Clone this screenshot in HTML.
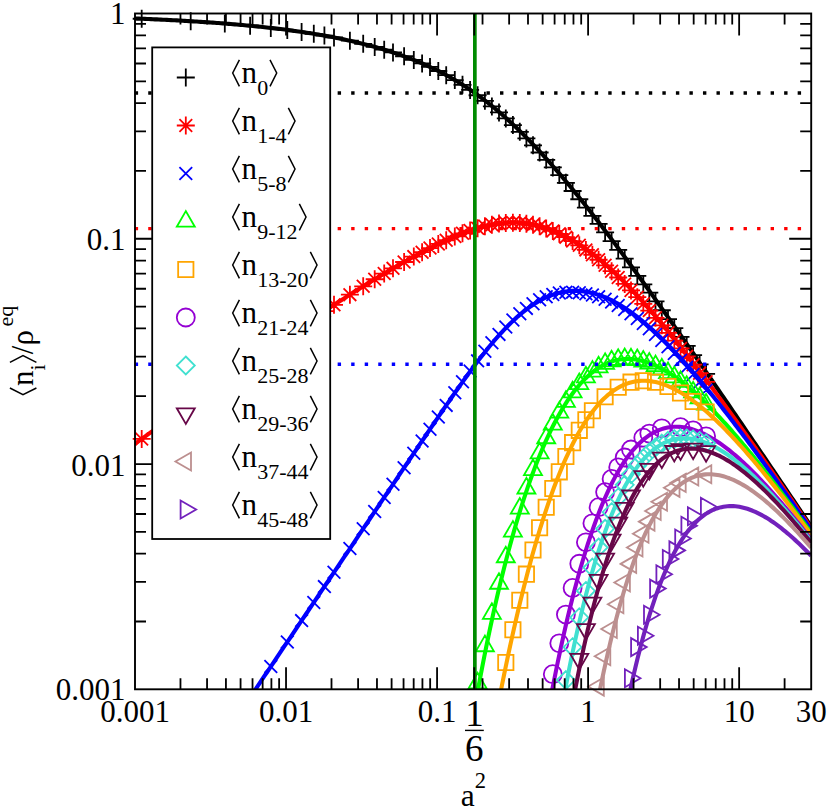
<!DOCTYPE html><html><head><meta charset="utf-8"><style>html,body{margin:0;padding:0;background:#fff}svg{display:block}</style></head><body><svg width="830" height="810" viewBox="0 0 830 810">
<rect width="830" height="810" fill="#fff"/>
<defs><clipPath id="c"><rect x="135" y="13.5" width="676.2" height="675.8"/></clipPath></defs>
<path d="M132.7 18.77H150.7M141.7 9.77V27.77M181.7 21.2H199.7M190.7 12.2V30.2M215.8 23.54H233.8M224.8 14.54V32.54M241.1 25.75H259.1M250.1 16.75V34.75M261.8 27.92H279.8M270.8 18.92V36.92M278.3 29.93H296.3M287.3 20.93V38.93M292.6 31.92H310.6M301.6 22.92V40.92M304.8 33.81H322.8M313.8 24.81V42.81M315.4 35.62H333.4M324.4 26.62V44.62M325 37.41H343M334 28.41V46.41M340.9 40.71H358.9M349.9 31.71V49.71M354.2 43.85H372.2M363.2 34.85V52.85M365.7 46.88H383.7M374.7 37.88V55.88M375.2 49.63H393.2M384.2 40.63V58.63M384 52.41H402M393 43.41V61.41M395.1 56.24H413.1M404.1 47.24V65.24M404.8 59.94H422.8M413.8 50.94V68.94M413.1 63.39H431.1M422.1 54.39V72.39M421 66.94H439M430 57.94V75.94M429.3 70.98H447.3M438.3 61.98V79.98M437.2 75.13H455.2M446.2 66.13V84.13M445.8 80.05H463.8M454.8 71.05V89.05M453.5 84.84H471.5M462.5 75.84V93.84M461.1 89.9H479.1M470.1 80.9V98.9M468.6 95.24H486.6M477.6 86.24V104.24M475.9 100.78H493.9M484.9 91.78V109.78M482.9 106.4H500.9M491.9 97.4V115.4M490 112.41H508M499 103.41V121.41M496.8 118.46H514.8M505.8 109.46V127.46M503.9 125.07H521.9M512.9 116.07V134.07M510.8 131.78H528.8M519.8 122.78V140.78M517.4 138.45H535.4M526.4 129.45V147.45M524 145.36H542M533 136.36V154.36M530.6 152.5H548.6M539.6 143.5V161.5M537.2 159.85H555.2M546.2 150.85V168.85M543.8 167.4H561.8M552.8 158.4V176.4M550.3 175.03H568.3M559.3 166.03V184.03M556.9 182.87H574.9M565.9 173.87V191.87M563.6 190.99H581.6M572.6 181.99V199.99M570.3 199.26H588.3M579.3 190.26V208.26M576.9 207.56H594.9M585.9 198.56V216.56M583.4 215.86H601.4M592.4 206.86V224.86M589.6 223.88H607.6M598.6 214.88V232.88M596.1 232.4H614.1M605.1 223.4V241.4M602.6 241.03H620.6M611.6 232.03V250.03M609.2 249.88H627.2M618.2 240.88V258.88M615.7 258.68H633.7M624.7 249.68V267.68M622 267.29H640M631 258.29V276.29M628.3 275.97H646.3M637.3 266.97V284.97M634.3 284.29H652.3M643.3 275.29V293.29M640.3 292.67H658.3M649.3 283.67V301.67M646.5 301.37H664.5M655.5 292.37V310.37M652.8 310.26H670.8M661.8 301.26V319.26M659 319.06H677M668 310.06V328.06M665.3 328.03H683.3M674.3 319.03V337.03M671.5 336.9H689.5M680.5 327.9V345.9M677.7 345.81H695.7M686.7 336.81V354.81M684.1 355.03H702.1M693.1 346.03V364.03M690.6 364.43H708.6M699.6 355.43V373.43M697.1 373.85H715.1M706.1 364.85V382.85" fill="none" stroke="#000000" stroke-width="1.8"/>
<path clip-path="url(#c)" d="M135 18.5L136.99 18.58L138.99 18.66L140.98 18.74L142.98 18.82L144.97 18.9L146.97 18.98L148.96 19.07L150.96 19.16L152.95 19.24L154.95 19.33L156.94 19.42L158.94 19.52L160.93 19.61L162.93 19.71L164.92 19.8L166.92 19.9L168.91 20L170.9 20.1L172.9 20.2L174.89 20.31L176.89 20.41L178.88 20.52L180.88 20.63L182.87 20.74L184.87 20.86L186.86 20.97L188.86 21.09L190.85 21.21L192.85 21.33L194.84 21.45L196.84 21.57L198.83 21.7L200.82 21.83L202.82 21.96L204.81 22.09L206.81 22.23L208.8 22.36L210.8 22.5L212.79 22.64L214.79 22.79L216.78 22.93L218.78 23.08L220.77 23.23L222.77 23.38L224.76 23.54L226.76 23.7L228.75 23.86L230.75 24.02L232.74 24.19L234.73 24.35L236.73 24.53L238.72 24.7L240.72 24.88L242.71 25.06L244.71 25.24L246.7 25.42L248.7 25.61L250.69 25.8L252.69 26L254.68 26.2L256.68 26.4L258.67 26.6L260.67 26.81L262.66 27.02L264.65 27.23L266.65 27.45L268.64 27.67L270.64 27.9L272.63 28.13L274.63 28.36L276.62 28.6L278.62 28.84L280.61 29.08L282.61 29.33L284.6 29.59L286.6 29.84L288.59 30.1L290.59 30.37L292.58 30.64L294.58 30.91L296.57 31.19L298.56 31.48L300.56 31.77L302.55 32.06L304.55 32.36L306.54 32.66L308.54 32.97L310.53 33.28L312.53 33.6L314.52 33.93L316.52 34.26L318.51 34.59L320.51 34.94L322.5 35.28L324.5 35.64L326.49 36L328.48 36.36L330.48 36.73L332.47 37.11L334.47 37.5L336.46 37.89L338.46 38.29L340.45 38.69L342.45 39.1L344.44 39.52L346.44 39.95L348.43 40.39L350.43 40.83L352.42 41.28L354.42 41.73L356.41 42.2L358.41 42.67L360.4 43.16L362.39 43.65L364.39 44.15L366.38 44.66L368.38 45.18L370.37 45.7L372.37 46.24L374.36 46.79L376.36 47.34L378.35 47.91L380.35 48.49L382.34 49.08L384.34 49.67L386.33 50.28L388.33 50.91L390.32 51.54L392.32 52.18L394.31 52.84L396.3 53.51L398.3 54.19L400.29 54.88L402.29 55.59L404.28 56.31L406.28 57.05L408.27 57.79L410.27 58.56L412.26 59.33L414.26 60.13L416.25 60.93L418.25 61.76L420.24 62.6L422.24 63.45L424.23 64.32L426.22 65.21L428.22 66.12L430.21 67.04L432.21 67.99L434.2 68.95L436.2 69.92L438.19 70.92L440.19 71.94L442.18 72.98L444.18 74.04L446.17 75.11L448.17 76.21L450.16 77.33L452.16 78.47L454.15 79.64L456.15 80.82L458.14 82.03L460.13 83.26L462.13 84.51L464.12 85.78L466.12 87.08L468.11 88.4L470.11 89.74L472.1 91.11L474.1 92.5L476.09 93.92L478.09 95.36L480.08 96.82L482.08 98.31L484.07 99.82L486.07 101.36L488.06 102.92L490.05 104.51L492.05 106.12L494.04 107.75L496.04 109.41L498.03 111.09L500.03 112.8L502.02 114.53L504.02 116.28L506.01 118.06L508.01 119.86L510 121.68L512 123.53L513.99 125.4L515.99 127.29L517.98 129.21L519.98 131.15L521.97 133.11L523.96 135.09L525.96 137.09L527.95 139.12L529.95 141.16L531.94 143.23L533.94 145.32L535.93 147.43L537.93 149.55L539.92 151.7L541.92 153.87L543.91 156.05L545.91 158.26L547.9 160.48L549.9 162.72L551.89 164.98L553.88 167.25L555.88 169.55L557.87 171.86L559.87 174.18L561.86 176.53L563.86 178.88L565.85 181.26L567.85 183.65L569.84 186.05L571.84 188.47L573.83 190.9L575.83 193.35L577.82 195.81L579.82 198.29L581.81 200.77L583.81 203.27L585.8 205.79L587.79 208.31L589.79 210.85L591.78 213.4L593.78 215.96L595.77 218.53L597.77 221.11L599.76 223.7L601.76 226.31L603.75 228.92L605.75 231.54L607.74 234.18L609.74 236.82L611.73 239.47L613.73 242.13L615.72 244.8L617.72 247.48L619.71 250.16L621.7 252.86L623.7 255.56L625.69 258.27L627.69 260.98L629.68 263.71L631.68 266.44L633.67 269.18L635.67 271.92L637.66 274.67L639.66 277.43L641.65 280.19L643.65 282.96L645.64 285.74L647.64 288.52L649.63 291.31L651.62 294.1L653.62 296.9L655.61 299.7L657.61 302.51L659.6 305.32L661.6 308.14L663.59 310.96L665.59 313.79L667.58 316.62L669.58 319.45L671.57 322.29L673.57 325.13L675.56 327.98L677.56 330.83L679.55 333.68L681.55 336.54L683.54 339.4L685.53 342.26L687.53 345.13L689.52 348L691.52 350.88L693.51 353.75L695.51 356.63L697.5 359.51L699.5 362.4L701.49 365.29L703.49 368.18L705.48 371.07L707.48 373.96L709.47 376.86L711.47 379.76L713.46 382.66L715.45 385.57L717.45 388.47L719.44 391.38L721.44 394.29L723.43 397.2L725.43 400.12L727.42 403.03L729.42 405.95L731.41 408.87L733.41 411.79L735.4 414.71L737.4 417.64L739.39 420.56L741.39 423.49L743.38 426.42L745.38 429.35L747.37 432.28L749.36 435.21L751.36 438.14L753.35 441.08L755.35 444.02L757.34 446.95L759.34 449.89L761.33 452.83L763.33 455.77L765.32 458.71L767.32 461.66L769.31 464.6L771.31 467.54L773.3 470.49L775.3 473.43L777.29 476.38L779.28 479.33L781.28 482.28L783.27 485.23L785.27 488.18L787.26 491.13L789.26 494.08L791.25 497.03L793.25 499.99L795.24 502.94L797.24 505.89L799.23 508.85L801.23 511.81L803.22 514.76L805.22 517.72L807.21 520.68L809.21 523.63L811.2 526.59" stroke="#000000" fill="none" stroke-width="4.1" stroke-linejoin="round"/>
<path d="M132.7 438.94H150.7M141.7 429.94V447.94M135.34 432.57L148.06 445.3M135.34 445.3L148.06 432.57M181.7 403.61H199.7M190.7 394.61V412.61M184.34 397.25L197.06 409.98M184.34 409.98L197.06 397.25M215.8 379.35H233.8M224.8 370.35V388.35M218.44 372.99L231.16 385.72M218.44 385.72L231.16 372.99M241.1 361.59H259.1M250.1 352.59V370.59M243.74 355.23L256.46 367.95M243.74 367.95L256.46 355.23M261.8 347.24H279.8M270.8 338.24V356.24M264.44 340.87L277.16 353.6M264.44 353.6L277.16 340.87M278.3 335.94H296.3M287.3 326.94V344.94M280.94 329.58L293.66 342.31M280.94 342.31L293.66 329.58M292.6 326.27H310.6M301.6 317.27V335.27M295.24 319.91L307.96 332.63M295.24 332.63L307.96 319.91M304.8 318.12H322.8M313.8 309.12V327.12M307.44 311.75L320.16 324.48M307.44 324.48L320.16 311.75M315.4 311.12H333.4M324.4 302.12V320.12M318.04 304.75L330.76 317.48M318.04 317.48L330.76 304.75M325 304.85H343M334 295.85V313.85M327.64 298.49L340.36 311.22M327.64 311.22L340.36 298.49M340.9 294.65H358.9M349.9 285.65V303.65M343.54 288.28L356.26 301.01M343.54 301.01L356.26 288.28M354.2 286.3H372.2M363.2 277.3V295.3M356.84 279.93L369.56 292.66M356.84 292.66L369.56 279.93M365.7 279.24H383.7M374.7 270.24V288.24M368.34 272.87L381.06 285.6M368.34 285.6L381.06 272.87M375.2 273.53H393.2M384.2 264.53V282.53M377.84 267.16L390.56 279.89M377.84 279.89L390.56 267.16M384 268.35H402M393 259.35V277.35M386.64 261.99L399.36 274.72M386.64 274.72L399.36 261.99M395.1 262H413.1M404.1 253V271M397.74 255.63L410.46 268.36M397.74 268.36L410.46 255.63M404.8 256.62H422.8M413.8 247.62V265.62M407.44 250.25L420.16 262.98M407.44 262.98L420.16 250.25M413.1 252.17H431.1M422.1 243.17V261.17M415.74 245.8L428.46 258.53M415.74 258.53L428.46 245.8M421 248.08H439M430 239.08V257.08M423.64 241.72L436.36 254.45M423.64 254.45L436.36 241.72M429.3 243.97H447.3M438.3 234.97V252.97M431.94 237.61L444.66 250.34M431.94 250.34L444.66 237.61M437.2 240.26H455.2M446.2 231.26V249.26M439.84 233.9L452.56 246.63M439.84 246.63L452.56 233.9M445.8 236.47H463.8M454.8 227.47V245.47M448.44 230.1L461.16 242.83M448.44 242.83L461.16 230.1M453.5 233.34H471.5M462.5 224.34V242.34M456.14 226.97L468.86 239.7M456.14 239.7L468.86 226.97M461.1 230.55H479.1M470.1 221.55V239.55M463.74 224.19L476.46 236.92M463.74 236.92L476.46 224.19M468.6 228.15H486.6M477.6 219.15V237.15M471.24 221.79L483.96 234.52M471.24 234.52L483.96 221.79M475.9 226.18H493.9M484.9 217.18V235.18M478.54 219.82L491.26 232.55M478.54 232.55L491.26 219.82M482.9 224.68H500.9M491.9 215.68V233.68M485.54 218.31L498.26 231.04M485.54 231.04L498.26 218.31M490 223.56H508M499 214.56V232.56M492.64 217.2L505.36 229.92M492.64 229.92L505.36 217.2M496.8 222.9H514.8M505.8 213.9V231.9M499.44 216.54L512.16 229.27M499.44 229.27L512.16 216.54M503.9 222.68H521.9M512.9 213.68V231.68M506.54 216.32L519.26 229.04M506.54 229.04L519.26 216.32M510.8 222.93H528.8M519.8 213.93V231.93M513.44 216.57L526.16 229.3M513.44 229.3L526.16 216.57M517.4 223.63H535.4M526.4 214.63V232.63M520.04 217.26L532.76 229.99M520.04 229.99L532.76 217.26M524 224.77H542M533 215.77V233.77M526.64 218.4L539.36 231.13M526.64 231.13L539.36 218.4M530.6 226.36H548.6M539.6 217.36V235.36M533.24 220L545.96 232.72M533.24 232.72L545.96 220M537.2 228.41H555.2M546.2 219.41V237.41M539.84 222.05L552.56 234.78M539.84 234.78L552.56 222.05M543.8 230.92H561.8M552.8 221.92V239.92M546.44 224.56L559.16 237.29M546.44 237.29L559.16 224.56M550.3 233.84H568.3M559.3 224.84V242.84M552.94 227.48L565.66 240.2M552.94 240.2L565.66 227.48M556.9 237.2H574.9M565.9 228.2V246.2M559.54 230.83L572.26 243.56M559.54 243.56L572.26 230.83M563.6 241.03H581.6M572.6 232.03V250.03M566.24 234.67L578.96 247.4M566.24 247.4L578.96 234.67M570.3 245.29H588.3M579.3 236.29V254.29M572.94 238.93L585.66 251.65M572.94 251.65L585.66 238.93M576.9 249.88H594.9M585.9 240.88V258.88M579.54 243.52L592.26 256.24M579.54 256.24L592.26 243.52M583.4 254.77H601.4M592.4 245.77V263.77M586.04 248.41L598.76 261.14M586.04 261.14L598.76 248.41M589.6 259.77H607.6M598.6 250.77V268.77M592.24 253.4L604.96 266.13M592.24 266.13L604.96 253.4M596.1 265.33H614.1M605.1 256.33V274.33M598.74 258.96L611.46 271.69M598.74 271.69L611.46 258.96M602.6 271.2H620.6M611.6 262.2V280.2M605.24 264.84L617.96 277.57M605.24 277.57L617.96 264.84M609.2 277.48H627.2M618.2 268.48V286.48M611.84 271.11L624.56 283.84M611.84 283.84L624.56 271.11M615.7 283.94H633.7M624.7 274.94V292.94M618.34 277.57L631.06 290.3M618.34 290.3L631.06 277.57M622 290.45H640M631 281.45V299.45M624.64 284.08L637.36 296.81M624.64 296.81L637.36 284.08M628.3 297.18H646.3M637.3 288.18V306.18M630.94 290.82L643.66 303.55M630.94 303.55L643.66 290.82M634.3 303.8H652.3M643.3 294.8V312.8M636.94 297.44L649.66 310.17M636.94 310.17L649.66 297.44M640.3 310.6H658.3M649.3 301.6V319.6M642.94 304.24L655.66 316.97M642.94 316.97L655.66 304.24M646.5 317.81H664.5M655.5 308.81V326.81M649.14 311.44L661.86 324.17M649.14 324.17L661.86 311.44M652.8 325.3H670.8M661.8 316.3V334.3M655.44 318.93L668.16 331.66M655.44 331.66L668.16 318.93M659 332.82H677M668 323.82V341.82M661.64 326.46L674.36 339.19M661.64 339.19L674.36 326.46M665.3 340.62H683.3M674.3 331.62V349.62M667.94 334.26L680.66 346.99M667.94 346.99L680.66 334.26M671.5 348.43H689.5M680.5 339.43V357.43M674.14 342.06L686.86 354.79M674.14 354.79L686.86 342.06M677.7 356.36H695.7M686.7 347.36V365.36M680.34 349.99L693.06 362.72M680.34 362.72L693.06 349.99M684.1 364.66H702.1M693.1 355.66V373.66M686.74 358.29L699.46 371.02M686.74 371.02L699.46 358.29M690.6 373.2H708.6M699.6 364.2V382.2M693.24 366.84L705.96 379.56M693.24 379.56L705.96 366.84M697.1 381.85H715.1M706.1 372.85V390.85M699.74 375.48L712.46 388.21M699.74 388.21L712.46 375.48" fill="none" stroke="#ff0000" stroke-width="1.8"/>
<path clip-path="url(#c)" d="M135 443.8L136.99 442.35L138.99 440.9L140.98 439.46L142.98 438.01L144.97 436.56L146.97 435.12L148.96 433.67L150.96 432.23L152.95 430.79L154.95 429.34L156.94 427.9L158.94 426.46L160.93 425.02L162.93 423.58L164.92 422.14L166.92 420.7L168.91 419.26L170.9 417.83L172.9 416.39L174.89 414.96L176.89 413.52L178.88 412.09L180.88 410.65L182.87 409.22L184.87 407.79L186.86 406.36L188.86 404.93L190.85 403.5L192.85 402.08L194.84 400.65L196.84 399.23L198.83 397.8L200.82 396.38L202.82 394.96L204.81 393.53L206.81 392.11L208.8 390.69L210.8 389.28L212.79 387.86L214.79 386.44L216.78 385.03L218.78 383.62L220.77 382.2L222.77 380.79L224.76 379.38L226.76 377.97L228.75 376.57L230.75 375.16L232.74 373.76L234.73 372.35L236.73 370.95L238.72 369.55L240.72 368.15L242.71 366.75L244.71 365.36L246.7 363.96L248.7 362.57L250.69 361.18L252.69 359.79L254.68 358.4L256.68 357.01L258.67 355.63L260.67 354.24L262.66 352.86L264.65 351.48L266.65 350.1L268.64 348.72L270.64 347.35L272.63 345.98L274.63 344.61L276.62 343.24L278.62 341.87L280.61 340.5L282.61 339.14L284.6 337.78L286.6 336.42L288.59 335.06L290.59 333.71L292.58 332.36L294.58 331.01L296.57 329.66L298.56 328.31L300.56 326.97L302.55 325.63L304.55 324.29L306.54 322.95L308.54 321.62L310.53 320.29L312.53 318.96L314.52 317.64L316.52 316.32L318.51 315L320.51 313.68L322.5 312.37L324.5 311.05L326.49 309.75L328.48 308.44L330.48 307.14L332.47 305.84L334.47 304.55L336.46 303.26L338.46 301.97L340.45 300.68L342.45 299.4L344.44 298.12L346.44 296.85L348.43 295.58L350.43 294.31L352.42 293.05L354.42 291.79L356.41 290.54L358.41 289.29L360.4 288.04L362.39 286.8L364.39 285.56L366.38 284.33L368.38 283.1L370.37 281.87L372.37 280.66L374.36 279.44L376.36 278.23L378.35 277.03L380.35 275.83L382.34 274.64L384.34 273.45L386.33 272.27L388.33 271.09L390.32 269.92L392.32 268.75L394.31 267.59L396.3 266.44L398.3 265.29L400.29 264.15L402.29 263.02L404.28 261.89L406.28 260.77L408.27 259.66L410.27 258.56L412.26 257.46L414.26 256.37L416.25 255.29L418.25 254.22L420.24 253.15L422.24 252.1L424.23 251.05L426.22 250.02L428.22 248.99L430.21 247.97L432.21 246.97L434.2 245.98L436.2 244.99L438.19 244.02L440.19 243.07L442.18 242.12L444.18 241.19L446.17 240.28L448.17 239.38L450.16 238.49L452.16 237.62L454.15 236.77L456.15 235.93L458.14 235.12L460.13 234.32L462.13 233.54L464.12 232.79L466.12 232.05L468.11 231.33L470.11 230.64L472.1 229.98L474.1 229.33L476.09 228.71L478.09 228.12L480.08 227.55L482.08 227.01L484.07 226.5L486.07 226.02L488.06 225.57L490.05 225.15L492.05 224.76L494.04 224.4L496.04 224.07L498.03 223.77L500.03 223.51L502.02 223.29L504.02 223.1L506.01 222.94L508.01 222.82L510 222.74L512 222.69L513.99 222.68L515.99 222.71L517.98 222.78L519.98 222.88L521.97 223.03L523.96 223.21L525.96 223.43L527.95 223.7L529.95 224L531.94 224.34L533.94 224.73L535.93 225.15L537.93 225.61L539.92 226.12L541.92 226.67L543.91 227.25L545.91 227.88L547.9 228.55L549.9 229.26L551.89 230.01L553.88 230.8L555.88 231.63L557.87 232.5L559.87 233.41L561.86 234.36L563.86 235.34L565.85 236.37L567.85 237.44L569.84 238.54L571.84 239.69L573.83 240.87L575.83 242.09L577.82 243.35L579.82 244.64L581.81 245.97L583.81 247.33L585.8 248.73L587.79 250.17L589.79 251.64L591.78 253.14L593.78 254.68L595.77 256.25L597.77 257.85L599.76 259.49L601.76 261.15L603.75 262.85L605.75 264.58L607.74 266.34L609.74 268.13L611.73 269.94L613.73 271.79L615.72 273.66L617.72 275.56L619.71 277.49L621.7 279.44L623.7 281.42L625.69 283.42L627.69 285.45L629.68 287.51L631.68 289.58L633.67 291.68L635.67 293.81L637.66 295.95L639.66 298.12L641.65 300.31L643.65 302.52L645.64 304.74L647.64 306.99L649.63 309.26L651.62 311.55L653.62 313.86L655.61 316.18L657.61 318.52L659.6 320.88L661.6 323.26L663.59 325.65L665.59 328.06L667.58 330.48L669.58 332.92L671.57 335.37L673.57 337.84L675.56 340.32L677.56 342.82L679.55 345.33L681.55 347.85L683.54 350.39L685.53 352.93L687.53 355.49L689.52 358.06L691.52 360.65L693.51 363.24L695.51 365.84L697.5 368.46L699.5 371.08L701.49 373.72L703.49 376.36L705.48 379.02L707.48 381.68L709.47 384.35L711.47 387.03L713.46 389.72L715.45 392.42L717.45 395.13L719.44 397.84L721.44 400.56L723.43 403.29L725.43 406.02L727.42 408.77L729.42 411.52L731.41 414.27L733.41 417.03L735.4 419.8L737.4 422.57L739.39 425.35L741.39 428.14L743.38 430.93L745.38 433.73L747.37 436.53L749.36 439.34L751.36 442.15L753.35 444.97L755.35 447.79L757.34 450.61L759.34 453.44L761.33 456.28L763.33 459.12L765.32 461.96L767.32 464.8L769.31 467.65L771.31 470.51L773.3 473.37L775.3 476.23L777.29 479.09L779.28 481.96L781.28 484.83L783.27 487.7L785.27 490.58L787.26 493.46L789.26 496.34L791.25 499.23L793.25 502.11L795.24 505.01L797.24 507.9L799.23 510.79L801.23 513.69L803.22 516.59L805.22 519.49L807.21 522.4L809.21 525.3L811.2 528.21" stroke="#ff0000" fill="none" stroke-width="4.1" stroke-linejoin="round"/>
<path d="M264.44 660.19L277.16 672.92M264.44 672.92L277.16 660.19M280.94 635.59L293.66 648.31M280.94 648.31L293.66 635.59M295.24 614.26L307.96 626.98M295.24 626.98L307.96 614.26M307.44 596.06L320.16 608.79M307.44 608.79L320.16 596.06M318.04 580.25L330.76 592.98M318.04 592.98L330.76 580.25M327.64 565.93L340.36 578.66M327.64 578.66L340.36 565.93M343.54 542.22L356.26 554.95M343.54 554.95L356.26 542.22M356.84 522.38L369.56 535.11M356.84 535.11L369.56 522.38M368.34 505.23L381.06 517.96M368.34 517.96L381.06 505.23M377.84 491.06L390.56 503.79M377.84 503.79L390.56 491.06M386.64 477.94L399.36 490.66M386.64 490.66L399.36 477.94M397.74 461.38L410.46 474.11M397.74 474.11L410.46 461.38M407.44 446.93L420.16 459.66M407.44 459.66L420.16 446.93M415.74 434.58L428.46 447.31M415.74 447.31L428.46 434.58M423.64 422.86L436.36 435.59M423.64 435.59L436.36 422.86M431.94 410.6L444.66 423.33M431.94 423.33L444.66 410.6M439.84 399.04L452.56 411.76M439.84 411.76L452.56 399.04M448.44 386.48L461.16 399.21M448.44 399.21L461.16 386.48M456.14 375.38L468.86 388.1M456.14 388.1L468.86 375.38M463.74 364.69L476.46 377.42M463.74 377.42L476.46 364.69M471.24 354.49L483.96 367.22M471.24 367.22L483.96 354.49M478.54 344.98L491.26 357.71M478.54 357.71L491.26 344.98M485.54 336.3L498.26 349.03M485.54 349.03L498.26 336.3M492.64 328.02L505.36 340.75M492.64 340.75L505.36 328.02M499.44 320.63L512.16 333.36M499.44 333.36L512.16 320.63M506.54 313.55L519.26 326.28M506.54 326.28L519.26 313.55M513.44 307.33L526.16 320.06M513.44 320.06L526.16 307.33M520.04 302.03L532.76 314.76M520.04 314.76L532.76 302.03M526.64 297.4L539.36 310.13M526.64 310.13L539.36 297.4M533.24 293.46L545.96 306.19M533.24 306.19L545.96 293.46M539.84 290.48L552.56 303.21M539.84 303.21L552.56 290.48M546.44 288.23L559.16 300.96M546.44 300.96L559.16 288.23M552.94 286.71L565.66 299.44M552.94 299.44L565.66 286.71M559.54 285.9L572.26 298.62M559.54 298.62L572.26 285.9M566.24 285.77L578.96 298.49M566.24 298.49L578.96 285.77M572.94 286.32L585.66 299.05M572.94 299.05L585.66 286.32M579.54 287.44L592.26 300.17M579.54 300.17L592.26 287.44M586.04 288.71L598.76 301.44M586.04 301.44L598.76 288.71M592.24 290.46L604.96 303.19M592.24 303.19L604.96 290.46M598.74 292.84L611.46 305.57M598.74 305.57L611.46 292.84M605.24 295.75L617.96 308.48M605.24 308.48L617.96 295.75M611.84 299.21L624.56 311.94M611.84 311.94L624.56 299.21M618.34 303.1L631.06 315.83M618.34 315.83L631.06 303.1M624.64 307.33L637.36 320.05M624.64 320.05L637.36 307.33M630.94 312.16L643.66 324.88M630.94 324.88L643.66 312.16M636.94 317.1L649.66 329.82M636.94 329.82L649.66 317.1M642.94 322.34L655.66 335.07M642.94 335.07L655.66 322.34M649.14 328.07L661.86 340.8M649.14 340.8L661.86 328.07M655.44 334.18L668.16 346.91M655.44 346.91L668.16 334.18M661.64 340.46L674.36 353.19M661.64 353.19L674.36 340.46M667.94 347.1L680.66 359.82M667.94 359.82L680.66 347.1M674.14 353.85L686.86 366.58M674.14 366.58L686.86 353.85M680.34 360.82L693.06 373.55M680.34 373.55L693.06 360.82M686.74 368.21L699.46 380.94M686.74 380.94L699.46 368.21M693.24 375.92L705.96 388.64M693.24 388.64L705.96 375.92M699.74 383.8L712.46 396.52M699.74 396.52L712.46 383.8" fill="none" stroke="#0000ff" stroke-width="1.8"/>
<path clip-path="url(#c)" d="M228.75 729.28L230.75 726.3L232.74 723.33L234.73 720.35L236.73 717.38L238.72 714.4L240.72 711.43L242.71 708.45L244.71 705.47L246.7 702.5L248.7 699.52L250.69 696.55L252.69 693.57L254.68 690.6L256.68 687.62L258.67 684.65L260.67 681.67L262.66 678.7L264.65 675.72L266.65 672.75L268.64 669.77L270.64 666.8L272.63 663.82L274.63 660.85L276.62 657.87L278.62 654.9L280.61 651.92L282.61 648.95L284.6 645.97L286.6 643L288.59 640.02L290.59 637.05L292.58 634.07L294.58 631.1L296.57 628.12L298.56 625.15L300.56 622.17L302.55 619.2L304.55 616.22L306.54 613.25L308.54 610.27L310.53 607.3L312.53 604.32L314.52 601.35L316.52 598.37L318.51 595.4L320.51 592.42L322.5 589.45L324.5 586.47L326.49 583.5L328.48 580.52L330.48 577.55L332.47 574.57L334.47 571.6L336.46 568.62L338.46 565.65L340.45 562.67L342.45 559.7L344.44 556.72L346.44 553.75L348.43 550.77L350.43 547.8L352.42 544.82L354.42 541.85L356.41 538.87L358.41 535.9L360.4 532.92L362.39 529.95L364.39 526.97L366.38 524L368.38 521.02L370.37 518.05L372.37 515.07L374.36 512.1L376.36 509.12L378.35 506.15L380.35 503.17L382.34 500.2L384.34 497.22L386.33 494.25L388.33 491.27L390.32 488.3L392.32 485.32L394.31 482.35L396.3 479.37L398.3 476.4L400.29 473.42L402.29 470.45L404.28 467.48L406.28 464.5L408.27 461.53L410.27 458.56L412.26 455.58L414.26 452.61L416.25 449.64L418.25 446.68L420.24 443.71L422.24 440.74L424.23 437.78L426.22 434.82L428.22 431.86L430.21 428.9L432.21 425.95L434.2 423.01L436.2 420.06L438.19 417.12L440.19 414.19L442.18 411.27L444.18 408.35L446.17 405.44L448.17 402.54L450.16 399.65L452.16 396.77L454.15 393.9L456.15 391.05L458.14 388.21L460.13 385.39L462.13 382.58L464.12 379.79L466.12 377.02L468.11 374.27L470.11 371.54L472.1 368.84L474.1 366.16L476.09 363.5L478.09 360.88L480.08 358.28L482.08 355.72L484.07 353.18L486.07 350.68L488.06 348.22L490.05 345.79L492.05 343.39L494.04 341.04L496.04 338.73L498.03 336.46L500.03 334.23L502.02 332.05L504.02 329.91L506.01 327.82L508.01 325.78L510 323.79L512 321.85L513.99 319.96L515.99 318.13L517.98 316.34L519.98 314.62L521.97 312.95L523.96 311.33L525.96 309.77L527.95 308.27L529.95 306.83L531.94 305.45L533.94 304.13L535.93 302.87L537.93 301.68L539.92 300.54L541.92 299.46L543.91 298.45L545.91 297.5L547.9 296.62L549.9 295.79L551.89 295.03L553.88 294.34L555.88 293.7L557.87 293.13L559.87 292.63L561.86 292.18L563.86 291.8L565.85 291.49L567.85 291.23L569.84 291.04L571.84 290.91L573.83 290.84L575.83 290.83L577.82 290.88L579.82 290.99L581.81 291.16L583.81 291.39L585.8 291.68L587.79 292.02L589.79 292.43L591.78 292.89L593.78 293.4L595.77 293.97L597.77 294.59L599.76 295.27L601.76 296L603.75 296.78L605.75 297.62L607.74 298.5L609.74 299.43L611.73 300.41L613.73 301.44L615.72 302.52L617.72 303.64L619.71 304.81L621.7 306.02L623.7 307.28L625.69 308.58L627.69 309.92L629.68 311.3L631.68 312.73L633.67 314.19L635.67 315.69L637.66 317.23L639.66 318.81L641.65 320.42L643.65 322.07L645.64 323.75L647.64 325.47L649.63 327.22L651.62 329L653.62 330.81L655.61 332.66L657.61 334.54L659.6 336.44L661.6 338.38L663.59 340.34L665.59 342.33L667.58 344.35L669.58 346.39L671.57 348.46L673.57 350.55L675.56 352.67L677.56 354.81L679.55 356.97L681.55 359.16L683.54 361.37L685.53 363.6L687.53 365.85L689.52 368.12L691.52 370.42L693.51 372.73L695.51 375.05L697.5 377.4L699.5 379.77L701.49 382.15L703.49 384.55L705.48 386.97L707.48 389.4L709.47 391.84L711.47 394.31L713.46 396.78L715.45 399.27L717.45 401.78L719.44 404.3L721.44 406.83L723.43 409.37L725.43 411.93L727.42 414.5L729.42 417.08L731.41 419.67L733.41 422.27L735.4 424.89L737.4 427.51L739.39 430.15L741.39 432.79L743.38 435.45L745.38 438.11L747.37 440.78L749.36 443.46L751.36 446.15L753.35 448.85L755.35 451.56L757.34 454.27L759.34 456.99L761.33 459.72L763.33 462.46L765.32 465.2L767.32 467.95L769.31 470.71L771.31 473.47L773.3 476.24L775.3 479.02L777.29 481.8L779.28 484.59L781.28 487.38L783.27 490.18L785.27 492.98L787.26 495.79L789.26 498.6L791.25 501.42L793.25 504.24L795.24 507.07L797.24 509.9L799.23 512.74L801.23 515.58L803.22 518.42L805.22 521.27L807.21 524.12L809.21 526.98L811.2 529.83" stroke="#0000ff" fill="none" stroke-width="4.1" stroke-linejoin="round"/>
<path d="M477.6 672.69L468.6 688.28L486.6 688.28ZM484.9 635.64L475.9 651.23L493.9 651.23ZM491.9 603.3L482.9 618.89L500.9 618.89ZM499 573.18L490 588.77L508 588.77ZM505.8 546.68L496.8 562.27L514.8 562.27ZM512.9 521.08L503.9 536.67L521.9 536.67ZM519.8 498.06L510.8 513.65L528.8 513.65ZM526.4 477.92L517.4 493.51L535.4 493.51ZM533 459.53L524 475.12L542 475.12ZM539.6 442.8L530.6 458.39L548.6 458.39ZM546.2 427.65L537.2 443.24L555.2 443.24ZM552.8 414.04L543.8 429.62L561.8 429.62ZM559.3 402.05L550.3 417.64L568.3 417.64ZM565.9 391.29L556.9 406.87L574.9 406.87ZM572.6 381.74L563.6 397.33L581.6 397.33ZM579.3 373.53L570.3 389.12L588.3 389.12ZM585.9 366.69L576.9 382.28L594.9 382.28ZM592.4 361.11L583.4 376.7L601.4 376.7ZM598.6 356.81L589.6 372.4L607.6 372.4ZM605.1 353.33L596.1 368.91L614.1 368.91ZM611.6 350.82L602.6 366.41L620.6 366.41ZM618.2 349.24L609.2 364.83L627.2 364.83ZM624.7 348.56L615.7 364.15L633.7 364.15ZM631 348.69L622 364.28L640 364.28ZM637.3 349.54L628.3 365.13L646.3 365.13ZM643.3 350.98L634.3 366.57L652.3 366.57ZM649.3 353L640.3 368.59L658.3 368.59ZM655.5 355.65L646.5 371.24L664.5 371.24ZM661.8 358.89L652.8 374.48L670.8 374.48ZM668 362.57L659 378.16L677 378.16ZM674.3 366.79L665.3 382.37L683.3 382.37ZM680.5 371.36L671.5 386.95L689.5 386.95ZM686.7 376.32L677.7 391.91L695.7 391.91ZM693.1 381.83L684.1 397.42L702.1 397.42ZM699.6 387.78L690.6 403.37L708.6 403.37ZM706.1 394.06L697.1 409.65L715.1 409.65Z" fill="none" stroke="#00ff00" stroke-width="1.8"/>
<path clip-path="url(#c)" d="M472.1 722.97L474.1 711.4L476.09 700.11L478.09 689.11L480.08 678.37L482.08 667.89L484.07 657.67L486.07 647.7L488.06 637.97L490.05 628.47L492.05 619.21L494.04 610.17L496.04 601.36L498.03 592.76L500.03 584.37L502.02 576.18L504.02 568.2L506.01 560.41L508.01 552.82L510 545.41L512 538.19L513.99 531.15L515.99 524.3L517.98 517.61L519.98 511.1L521.97 504.75L523.96 498.57L525.96 492.56L527.95 486.71L529.95 481.01L531.94 475.47L533.94 470.09L535.93 464.85L537.93 459.77L539.92 454.83L541.92 450.04L543.91 445.4L545.91 440.89L547.9 436.53L549.9 432.3L551.89 428.22L553.88 424.26L555.88 420.44L557.87 416.76L559.87 413.2L561.86 409.77L563.86 406.47L565.85 403.29L567.85 400.24L569.84 397.32L571.84 394.51L573.83 391.82L575.83 389.26L577.82 386.81L579.82 384.47L581.81 382.25L583.81 380.14L585.8 378.14L587.79 376.25L589.79 374.46L591.78 372.79L593.78 371.21L595.77 369.74L597.77 368.38L599.76 367.11L601.76 365.94L603.75 364.86L605.75 363.88L607.74 363L609.74 362.2L611.73 361.5L613.73 360.88L615.72 360.35L617.72 359.91L619.71 359.55L621.7 359.27L623.7 359.07L625.69 358.95L627.69 358.91L629.68 358.95L631.68 359.06L633.67 359.24L635.67 359.49L637.66 359.82L639.66 360.21L641.65 360.67L643.65 361.19L645.64 361.78L647.64 362.43L649.63 363.14L651.62 363.91L653.62 364.74L655.61 365.63L657.61 366.57L659.6 367.57L661.6 368.62L663.59 369.72L665.59 370.88L667.58 372.08L669.58 373.33L671.57 374.63L673.57 375.97L675.56 377.36L677.56 378.79L679.55 380.27L681.55 381.79L683.54 383.34L685.53 384.94L687.53 386.58L689.52 388.25L691.52 389.96L693.51 391.7L695.51 393.48L697.5 395.29L699.5 397.14L701.49 399.02L703.49 400.92L705.48 402.86L707.48 404.83L709.47 406.83L711.47 408.85L713.46 410.9L715.45 412.98L717.45 415.09L719.44 417.21L721.44 419.37L723.43 421.54L725.43 423.74L727.42 425.97L729.42 428.21L731.41 430.47L733.41 432.76L735.4 435.07L737.4 437.39L739.39 439.73L741.39 442.1L743.38 444.48L745.38 446.87L747.37 449.29L749.36 451.72L751.36 454.16L753.35 456.62L755.35 459.1L757.34 461.59L759.34 464.1L761.33 466.62L763.33 469.15L765.32 471.69L767.32 474.25L769.31 476.82L771.31 479.4L773.3 482L775.3 484.6L777.29 487.22L779.28 489.84L781.28 492.48L783.27 495.13L785.27 497.78L787.26 500.45L789.26 503.12L791.25 505.81L793.25 508.5L795.24 511.2L797.24 513.91L799.23 516.63L801.23 519.35L803.22 522.08L805.22 524.82L807.21 527.57L809.21 530.32L811.2 533.08" stroke="#00ff00" fill="none" stroke-width="4.1" stroke-linejoin="round"/>
<path d="M498.15 654.82H513.45V670.12H498.15ZM505.25 622.08H520.55V637.38H505.25ZM512.15 592.61H527.45V607.91H512.15ZM518.75 566.49H534.05V581.79H518.75ZM525.35 542.33H540.65V557.63H525.35ZM531.95 520.05H547.25V535.35H531.95ZM538.55 499.6H553.85V514.9H538.55ZM545.15 480.92H560.45V496.22H545.15ZM551.65 464.2H566.95V479.5H551.65ZM558.25 448.88H573.55V464.18H558.25ZM564.95 434.98H580.25V450.28H564.95ZM571.65 422.68H586.95V437.98H571.65ZM578.25 412.07H593.55V427.37H578.25ZM584.75 403.03H600.05V418.33H584.75ZM597.45 389.13H612.75V404.43H597.45ZM610.55 379.61H625.85V394.91H610.55ZM623.35 374.52H638.65V389.82H623.35ZM635.65 373.09H650.95V388.39H635.65ZM647.85 374.62H663.15V389.92H647.85ZM660.35 378.81H675.65V394.11H660.35ZM672.85 385.3H688.15V400.6H672.85ZM685.45 393.83H700.75V409.13H685.45ZM698.45 404.39H713.75V419.69H698.45Z" fill="none" stroke="#ffa500" stroke-width="1.8"/>
<path clip-path="url(#c)" d="M494.04 726.82L496.04 716.02L498.03 705.44L500.03 695.08L502.02 684.94L504.02 675.02L506.01 665.3L508.01 655.78L510 646.47L512 637.35L513.99 628.44L515.99 619.71L517.98 611.18L519.98 602.83L521.97 594.67L523.96 586.7L525.96 578.9L527.95 571.29L529.95 563.85L531.94 556.58L533.94 549.5L535.93 542.58L537.93 535.83L539.92 529.25L541.92 522.84L543.91 516.6L545.91 510.52L547.9 504.6L549.9 498.84L551.89 493.24L553.88 487.8L555.88 482.52L557.87 477.39L559.87 472.42L561.86 467.6L563.86 462.93L565.85 458.41L567.85 454.04L569.84 449.81L571.84 445.73L573.83 441.79L575.83 437.99L577.82 434.34L579.82 430.82L581.81 427.44L583.81 424.19L585.8 421.08L587.79 418.1L589.79 415.25L591.78 412.53L593.78 409.94L595.77 407.46L597.77 405.12L599.76 402.89L601.76 400.78L603.75 398.79L605.75 396.92L607.74 395.16L609.74 393.51L611.73 391.97L613.73 390.54L615.72 389.21L617.72 387.99L619.71 386.87L621.7 385.85L623.7 384.93L625.69 384.11L627.69 383.38L629.68 382.74L631.68 382.2L633.67 381.74L635.67 381.38L637.66 381.09L639.66 380.89L641.65 380.78L643.65 380.74L645.64 380.78L647.64 380.9L649.63 381.09L651.62 381.36L653.62 381.7L655.61 382.11L657.61 382.59L659.6 383.13L661.6 383.74L663.59 384.41L665.59 385.15L667.58 385.94L669.58 386.8L671.57 387.71L673.57 388.68L675.56 389.71L677.56 390.79L679.55 391.92L681.55 393.1L683.54 394.33L685.53 395.61L687.53 396.94L689.52 398.31L691.52 399.73L693.51 401.19L695.51 402.69L697.5 404.24L699.5 405.82L701.49 407.45L703.49 409.11L705.48 410.81L707.48 412.55L709.47 414.32L711.47 416.12L713.46 417.96L715.45 419.84L717.45 421.74L719.44 423.67L721.44 425.64L723.43 427.63L725.43 429.65L727.42 431.7L729.42 433.77L731.41 435.88L733.41 438L735.4 440.15L737.4 442.33L739.39 444.53L741.39 446.75L743.38 448.99L745.38 451.25L747.37 453.54L749.36 455.84L751.36 458.17L753.35 460.51L755.35 462.87L757.34 465.25L759.34 467.65L761.33 470.06L763.33 472.49L765.32 474.94L767.32 477.4L769.31 479.88L771.31 482.37L773.3 484.87L775.3 487.39L777.29 489.93L779.28 492.47L781.28 495.03L783.27 497.6L785.27 500.18L787.26 502.78L789.26 505.38L791.25 508L793.25 510.63L795.24 513.27L797.24 515.91L799.23 518.57L801.23 521.24L803.22 523.91L805.22 526.6L807.21 529.29L809.21 531.99L811.2 534.7" stroke="#ffa500" fill="none" stroke-width="4.1" stroke-linejoin="round"/>
<path d="M543.8 674.2A9 9 0 1 0 561.8 674.2A9 9 0 1 0 543.8 674.2ZM550.3 643.3A9 9 0 1 0 568.3 643.3A9 9 0 1 0 550.3 643.3ZM556.9 614.53A9 9 0 1 0 574.9 614.53A9 9 0 1 0 556.9 614.53ZM563.6 587.9A9 9 0 1 0 581.6 587.9A9 9 0 1 0 563.6 587.9ZM570.3 563.76A9 9 0 1 0 588.3 563.76A9 9 0 1 0 570.3 563.76ZM576.9 542.31A9 9 0 1 0 594.9 542.31A9 9 0 1 0 576.9 542.31ZM583.4 523.35A9 9 0 1 0 601.4 523.35A9 9 0 1 0 583.4 523.35ZM589.6 507.17A9 9 0 1 0 607.6 507.17A9 9 0 1 0 589.6 507.17ZM596.1 492.12A9 9 0 1 0 614.1 492.12A9 9 0 1 0 596.1 492.12ZM602.6 478.92A9 9 0 1 0 620.6 478.92A9 9 0 1 0 602.6 478.92ZM609.2 467.3A9 9 0 1 0 627.2 467.3A9 9 0 1 0 609.2 467.3ZM615.7 457.51A9 9 0 1 0 633.7 457.51A9 9 0 1 0 615.7 457.51ZM622 449.5A9 9 0 1 0 640 449.5A9 9 0 1 0 622 449.5ZM634.3 437.69A9 9 0 1 0 652.3 437.69A9 9 0 1 0 634.3 437.69ZM640.3 433.62A9 9 0 1 0 658.3 433.62A9 9 0 1 0 640.3 433.62ZM652.8 428.29A9 9 0 1 0 670.8 428.29A9 9 0 1 0 652.8 428.29ZM671.5 427.21A9 9 0 1 0 689.5 427.21A9 9 0 1 0 671.5 427.21ZM684.1 430.36A9 9 0 1 0 702.1 430.36A9 9 0 1 0 684.1 430.36ZM697.1 436.31A9 9 0 1 0 715.1 436.31A9 9 0 1 0 697.1 436.31Z" fill="none" stroke="#9400d3" stroke-width="1.8"/>
<path clip-path="url(#c)" d="M545.91 723.53L547.9 712.58L549.9 701.89L551.89 691.45L553.88 681.27L555.88 671.34L557.87 661.65L559.87 652.21L561.86 643.01L563.86 634.05L565.85 625.33L567.85 616.84L569.84 608.58L571.84 600.55L573.83 592.75L575.83 585.16L577.82 577.8L579.82 570.65L581.81 563.72L583.81 557L585.8 550.49L587.79 544.18L589.79 538.08L591.78 532.18L593.78 526.47L595.77 520.96L597.77 515.64L599.76 510.51L601.76 505.56L603.75 500.8L605.75 496.22L607.74 491.81L609.74 487.58L611.73 483.52L613.73 479.63L615.72 475.9L617.72 472.34L619.71 468.93L621.7 465.68L623.7 462.59L625.69 459.64L627.69 456.84L629.68 454.19L631.68 451.67L633.67 449.3L635.67 447.06L637.66 444.96L639.66 442.98L641.65 441.14L643.65 439.42L645.64 437.82L647.64 436.34L649.63 434.97L651.62 433.72L653.62 432.59L655.61 431.56L657.61 430.64L659.6 429.82L661.6 429.1L663.59 428.49L665.59 427.97L667.58 427.54L669.58 427.21L671.57 426.97L673.57 426.81L675.56 426.75L677.56 426.76L679.55 426.86L681.55 427.03L683.54 427.29L685.53 427.62L687.53 428.02L689.52 428.49L691.52 429.04L693.51 429.65L695.51 430.33L697.5 431.07L699.5 431.88L701.49 432.74L703.49 433.67L705.48 434.66L707.48 435.7L709.47 436.79L711.47 437.94L713.46 439.14L715.45 440.4L717.45 441.7L719.44 443.05L721.44 444.44L723.43 445.89L725.43 447.37L727.42 448.9L729.42 450.47L731.41 452.08L733.41 453.73L735.4 455.42L737.4 457.14L739.39 458.9L741.39 460.7L743.38 462.53L745.38 464.4L747.37 466.29L749.36 468.22L751.36 470.18L753.35 472.17L755.35 474.19L757.34 476.23L759.34 478.3L761.33 480.4L763.33 482.53L765.32 484.67L767.32 486.85L769.31 489.04L771.31 491.26L773.3 493.51L775.3 495.77L777.29 498.05L779.28 500.36L781.28 502.68L783.27 505.03L785.27 507.39L787.26 509.77L789.26 512.17L791.25 514.58L793.25 517.01L795.24 519.46L797.24 521.92L799.23 524.4L801.23 526.89L803.22 529.4L805.22 531.92L807.21 534.46L809.21 537L811.2 539.56" stroke="#9400d3" fill="none" stroke-width="4.1" stroke-linejoin="round"/>
<path d="M565.9 671.12L574.9 680.12L565.9 689.12L556.9 680.12ZM572.6 638.16L581.6 647.16L572.6 656.16L563.6 647.16ZM579.3 608.38L588.3 617.38L579.3 626.38L570.3 617.38ZM585.9 581.93L594.9 590.93L585.9 599.93L576.9 590.93ZM592.4 558.53L601.4 567.53L592.4 576.53L583.4 567.53ZM598.6 538.5L607.6 547.5L598.6 556.5L589.6 547.5ZM605.1 519.76L614.1 528.76L605.1 537.76L596.1 528.76ZM611.6 503.19L620.6 512.19L611.6 521.19L602.6 512.19ZM618.2 488.45L627.2 497.45L618.2 506.45L609.2 497.45ZM624.7 475.85L633.7 484.85L624.7 493.85L615.7 484.85ZM631 465.34L640 474.34L631 483.34L622 474.34ZM637.3 456.39L646.3 465.39L637.3 474.39L628.3 465.39ZM643.3 449.22L652.3 458.22L643.3 467.22L634.3 458.22ZM649.3 443.3L658.3 452.3L649.3 461.3L640.3 452.3ZM655.5 438.38L664.5 447.38L655.5 456.38L646.5 447.38ZM661.8 434.56L670.8 443.56L661.8 452.56L652.8 443.56ZM668 431.87L677 440.87L668 449.87L659 440.87ZM674.3 430.14L683.3 439.14L674.3 448.14L665.3 439.14ZM680.5 429.35L689.5 438.35L680.5 447.35L671.5 438.35ZM686.7 429.41L695.7 438.41L686.7 447.41L677.7 438.41ZM693.1 430.27L702.1 439.27L693.1 448.27L684.1 439.27ZM699.6 431.93L708.6 440.93L699.6 449.93L690.6 440.93ZM706.1 434.3L715.1 443.3L706.1 452.3L697.1 443.3Z" fill="none" stroke="#40e0d0" stroke-width="1.8"/>
<path clip-path="url(#c)" d="M559.87 718.93L561.86 707.67L563.86 696.73L565.85 686.09L567.85 675.77L569.84 665.74L571.84 656L573.83 646.55L575.83 637.37L577.82 628.48L579.82 619.85L581.81 611.49L583.81 603.38L585.8 595.54L587.79 587.94L589.79 580.58L591.78 573.46L593.78 566.58L595.77 559.93L597.77 553.51L599.76 547.31L601.76 541.32L603.75 535.55L605.75 529.99L607.74 524.64L609.74 519.48L611.73 514.53L613.73 509.76L615.72 505.19L617.72 500.8L619.71 496.6L621.7 492.57L623.7 488.72L625.69 485.04L627.69 481.53L629.68 478.18L631.68 474.99L633.67 471.96L635.67 469.09L637.66 466.36L639.66 463.78L641.65 461.35L643.65 459.05L645.64 456.9L647.64 454.88L649.63 452.99L651.62 451.23L653.62 449.59L655.61 448.08L657.61 446.69L659.6 445.42L661.6 444.25L663.59 443.21L665.59 442.26L667.58 441.43L669.58 440.7L671.57 440.07L673.57 439.54L675.56 439.11L677.56 438.76L679.55 438.51L681.55 438.35L683.54 438.28L685.53 438.29L687.53 438.39L689.52 438.56L691.52 438.81L693.51 439.14L695.51 439.54L697.5 440.02L699.5 440.57L701.49 441.18L703.49 441.86L705.48 442.61L707.48 443.42L709.47 444.29L711.47 445.22L713.46 446.21L715.45 447.25L717.45 448.35L719.44 449.51L721.44 450.71L723.43 451.97L725.43 453.28L727.42 454.63L729.42 456.03L731.41 457.48L733.41 458.97L735.4 460.51L737.4 462.08L739.39 463.7L741.39 465.35L743.38 467.05L745.38 468.78L747.37 470.55L749.36 472.35L751.36 474.18L753.35 476.05L755.35 477.96L757.34 479.89L759.34 481.85L761.33 483.85L763.33 485.87L765.32 487.92L767.32 490L769.31 492.1L771.31 494.23L773.3 496.38L775.3 498.56L777.29 500.76L779.28 502.99L781.28 505.23L783.27 507.5L785.27 509.79L787.26 512.1L789.26 514.43L791.25 516.77L793.25 519.14L795.24 521.53L797.24 523.93L799.23 526.35L801.23 528.78L803.22 531.23L805.22 533.7L807.21 536.18L809.21 538.68L811.2 541.19" stroke="#40e0d0" fill="none" stroke-width="4.1" stroke-linejoin="round"/>
<path d="M579.3 669.48L570.3 653.9L588.3 653.9ZM585.9 639.73L576.9 624.14L594.9 624.14ZM592.4 613.29L583.4 597.7L601.4 597.7ZM598.6 590.55L589.6 574.96L607.6 574.96ZM605.1 569.17L596.1 553.58L614.1 553.58ZM611.6 550.16L602.6 534.57L620.6 534.57ZM618.2 533.13L609.2 517.54L627.2 517.54ZM624.7 518.45L615.7 502.86L633.7 502.86ZM631 506.08L622 490.49L640 490.49ZM643.3 486.75L634.3 471.16L652.3 471.16ZM649.3 479.43L640.3 463.84L658.3 463.84ZM661.8 468.14L652.8 452.55L670.8 452.55ZM674.3 461.57L665.3 445.98L683.3 445.98ZM680.5 459.86L671.5 444.27L689.5 444.27ZM693.1 459.12L684.1 443.53L702.1 443.53ZM706.1 461.72L697.1 446.13L715.1 446.13Z" fill="none" stroke="#670748" stroke-width="1.8"/>
<path clip-path="url(#c)" d="M569.84 718.23L571.84 707.22L573.83 696.51L575.83 686.11L577.82 676.01L579.82 666.2L581.81 656.68L583.81 647.44L585.8 638.48L587.79 629.79L589.79 621.37L591.78 613.21L593.78 605.3L595.77 597.65L597.77 590.25L599.76 583.09L601.76 576.17L603.75 569.48L605.75 563.03L607.74 556.8L609.74 550.79L611.73 545L613.73 539.42L615.72 534.05L617.72 528.89L619.71 523.92L621.7 519.16L623.7 514.58L625.69 510.2L627.69 506L629.68 501.98L631.68 498.14L633.67 494.47L635.67 490.97L637.66 487.64L639.66 484.47L641.65 481.46L643.65 478.61L645.64 475.9L647.64 473.35L649.63 470.94L651.62 468.68L653.62 466.55L655.61 464.56L657.61 462.7L659.6 460.98L661.6 459.37L663.59 457.89L665.59 456.54L667.58 455.3L669.58 454.17L671.57 453.15L673.57 452.25L675.56 451.45L677.56 450.76L679.55 450.16L681.55 449.67L683.54 449.27L685.53 448.96L687.53 448.75L689.52 448.62L691.52 448.58L693.51 448.63L695.51 448.76L697.5 448.96L699.5 449.25L701.49 449.61L703.49 450.05L705.48 450.55L707.48 451.13L709.47 451.78L711.47 452.49L713.46 453.27L715.45 454.11L717.45 455.01L719.44 455.97L721.44 456.98L723.43 458.06L725.43 459.18L727.42 460.37L729.42 461.6L731.41 462.88L733.41 464.21L735.4 465.59L737.4 467.02L739.39 468.49L741.39 470.01L743.38 471.56L745.38 473.16L747.37 474.8L749.36 476.47L751.36 478.19L753.35 479.94L755.35 481.73L757.34 483.55L759.34 485.41L761.33 487.29L763.33 489.21L765.32 491.16L767.32 493.15L769.31 495.16L771.31 497.19L773.3 499.26L775.3 501.35L777.29 503.47L779.28 505.62L781.28 507.78L783.27 509.98L785.27 512.19L787.26 514.43L789.26 516.69L791.25 518.97L793.25 521.27L795.24 523.59L797.24 525.93L799.23 528.29L801.23 530.67L803.22 533.06L805.22 535.47L807.21 537.9L809.21 540.35L811.2 542.81" stroke="#670748" fill="none" stroke-width="4.1" stroke-linejoin="round"/>
<path d="M588.21 686.58L603.8 677.58L603.8 695.58ZM594.71 656.28L610.3 647.28L610.3 665.28ZM601.21 629.01L616.8 620.01L616.8 638.01ZM607.81 604.24L623.4 595.24L623.4 613.24ZM614.31 582.53L629.9 573.53L629.9 591.53ZM620.61 563.88L636.2 554.88L636.2 572.88ZM626.91 547.43L642.5 538.43L642.5 556.43ZM632.91 533.67L648.5 524.67L648.5 542.67ZM638.91 521.64L654.5 512.64L654.5 530.64ZM645.11 510.93L660.7 501.93L660.7 519.93ZM651.41 501.69L667 492.69L667 510.69ZM663.91 487.82L679.5 478.82L679.5 496.82ZM670.11 482.93L685.7 473.93L685.7 491.93ZM682.71 476.53L698.3 467.53L698.3 485.53ZM695.71 474.26L711.3 465.26L711.3 483.26Z" fill="none" stroke="#bc8f8f" stroke-width="1.8"/>
<path clip-path="url(#c)" d="M593.78 721.84L595.77 711.15L597.77 700.77L599.76 690.71L601.76 680.95L603.75 671.49L605.75 662.33L607.74 653.46L609.74 644.87L611.73 636.55L613.73 628.51L615.72 620.74L617.72 613.23L619.71 605.98L621.7 598.99L623.7 592.23L625.69 585.73L627.69 579.46L629.68 573.42L631.68 567.61L633.67 562.02L635.67 556.66L637.66 551.5L639.66 546.56L641.65 541.82L643.65 537.28L645.64 532.94L647.64 528.79L649.63 524.82L651.62 521.04L653.62 517.44L655.61 514.01L657.61 510.75L659.6 507.66L661.6 504.74L663.59 501.97L665.59 499.36L667.58 496.89L669.58 494.58L671.57 492.41L673.57 490.38L675.56 488.49L677.56 486.73L679.55 485.1L681.55 483.6L683.54 482.22L685.53 480.97L687.53 479.83L689.52 478.81L691.52 477.89L693.51 477.09L695.51 476.39L697.5 475.8L699.5 475.3L701.49 474.91L703.49 474.61L705.48 474.4L707.48 474.28L709.47 474.25L711.47 474.31L713.46 474.45L715.45 474.67L717.45 474.97L719.44 475.34L721.44 475.79L723.43 476.31L725.43 476.9L727.42 477.57L729.42 478.29L731.41 479.09L733.41 479.94L735.4 480.86L737.4 481.83L739.39 482.87L741.39 483.96L743.38 485.11L745.38 486.3L747.37 487.55L749.36 488.85L751.36 490.2L753.35 491.6L755.35 493.04L757.34 494.53L759.34 496.06L761.33 497.63L763.33 499.25L765.32 500.9L767.32 502.59L769.31 504.32L771.31 506.09L773.3 507.89L775.3 509.73L777.29 511.6L779.28 513.5L781.28 515.44L783.27 517.4L785.27 519.4L787.26 521.42L789.26 523.47L791.25 525.55L793.25 527.65L795.24 529.79L797.24 531.94L799.23 534.12L801.23 536.32L803.22 538.55L805.22 540.8L807.21 543.07L809.21 545.36L811.2 547.67" stroke="#bc8f8f" fill="none" stroke-width="4.1" stroke-linejoin="round"/>
<path d="M640.49 678.3L624.9 669.3L624.9 687.3ZM646.69 647.1L631.1 638.1L631.1 656.1ZM653.49 635.8L637.9 626.8L637.9 644.8ZM659.59 614.7L644 605.7L644 623.7ZM665.69 588.6L650.1 579.6L650.1 597.6ZM671.99 574.3L656.4 565.3L656.4 583.3ZM678.39 559L662.8 550L662.8 568ZM684.99 550.4L669.4 541.4L669.4 559.4ZM690.79 538.5L675.2 529.5L675.2 547.5ZM696.99 525.7L681.4 516.7L681.4 534.7ZM703.49 516.3L687.9 507.3L687.9 525.3ZM716.49 506.8L700.9 497.8L700.9 515.8Z" fill="none" stroke="#7221bc" stroke-width="1.8"/>
<path clip-path="url(#c)" d="M623.7 721.88L625.69 711.81L627.69 702.07L629.68 692.65L631.68 683.55L633.67 674.75L635.67 666.25L637.66 658.05L639.66 650.13L641.65 642.5L643.65 635.14L645.64 628.06L647.64 621.24L649.63 614.67L651.62 608.36L653.62 602.29L655.61 596.46L657.61 590.87L659.6 585.51L661.6 580.37L663.59 575.45L665.59 570.74L667.58 566.24L669.58 561.95L671.57 557.85L673.57 553.95L675.56 550.23L677.56 546.7L679.55 543.35L681.55 540.17L683.54 537.16L685.53 534.32L687.53 531.64L689.52 529.12L691.52 526.75L693.51 524.53L695.51 522.46L697.5 520.53L699.5 518.73L701.49 517.07L703.49 515.55L705.48 514.14L707.48 512.87L709.47 511.71L711.47 510.67L713.46 509.75L715.45 508.94L717.45 508.23L719.44 507.63L721.44 507.14L723.43 506.74L725.43 506.44L727.42 506.23L729.42 506.12L731.41 506.09L733.41 506.15L735.4 506.3L737.4 506.53L739.39 506.83L741.39 507.22L743.38 507.68L745.38 508.21L747.37 508.81L749.36 509.49L751.36 510.23L753.35 511.03L755.35 511.9L757.34 512.83L759.34 513.82L761.33 514.86L763.33 515.97L765.32 517.13L767.32 518.34L769.31 519.6L771.31 520.92L773.3 522.28L775.3 523.69L777.29 525.14L779.28 526.64L781.28 528.19L783.27 529.77L785.27 531.4L787.26 533.07L789.26 534.77L791.25 536.52L793.25 538.3L795.24 540.11L797.24 541.96L799.23 543.84L801.23 545.75L803.22 547.7L805.22 549.68L807.21 551.68L809.21 553.72L811.2 555.78" stroke="#7221bc" fill="none" stroke-width="4.1" stroke-linejoin="round"/>
<path d="M134.7 93.03H801.5" stroke="#000" stroke-width="3.4" stroke-dasharray="3.4 10.13" fill="none"/>
<path d="M134.7 228.66H801.5" stroke="#f00" stroke-width="3.4" stroke-dasharray="3.4 10.13" fill="none"/>
<path d="M134.7 364.28H801.5" stroke="#00f" stroke-width="3.4" stroke-dasharray="3.4 10.13" fill="none"/>
<path d="M474.85 13.5V689.3" stroke="#008b00" stroke-width="3.7" fill="none"/>
<path d="M180.47 13.5v11M180.47 689.3v-11M207.06 13.5v11M207.06 689.3v-11M225.93 13.5v11M225.93 689.3v-11M240.57 13.5v11M240.57 689.3v-11M252.53 13.5v11M252.53 689.3v-11M262.64 13.5v11M262.64 689.3v-11M271.4 13.5v11M271.4 689.3v-11M279.12 13.5v11M279.12 689.3v-11M286.03 13.5v22M286.03 689.3v-22M331.5 13.5v11M331.5 689.3v-11M358.1 13.5v11M358.1 689.3v-11M376.97 13.5v11M376.97 689.3v-11M391.6 13.5v11M391.6 689.3v-11M403.56 13.5v11M403.56 689.3v-11M413.67 13.5v11M413.67 689.3v-11M422.43 13.5v11M422.43 689.3v-11M430.16 13.5v11M430.16 689.3v-11M437.07 13.5v22M437.07 689.3v-22M482.54 13.5v11M482.54 689.3v-11M509.13 13.5v11M509.13 689.3v-11M528 13.5v11M528 689.3v-11M542.64 13.5v11M542.64 689.3v-11M554.6 13.5v11M554.6 689.3v-11M564.71 13.5v11M564.71 689.3v-11M573.47 13.5v11M573.47 689.3v-11M581.19 13.5v11M581.19 689.3v-11M588.1 13.5v22M588.1 689.3v-22M633.57 13.5v11M633.57 689.3v-11M660.17 13.5v11M660.17 689.3v-11M679.04 13.5v11M679.04 689.3v-11M693.67 13.5v11M693.67 689.3v-11M705.63 13.5v11M705.63 689.3v-11M715.74 13.5v11M715.74 689.3v-11M724.5 13.5v11M724.5 689.3v-11M732.23 13.5v11M732.23 689.3v-11M739.14 13.5v22M739.14 689.3v-22M784.6 13.5v11M784.6 689.3v-11M474.2 13.5v22M474.2 689.3v-22M135 621.49h11M811.2 621.49h-11M135 581.82h11M811.2 581.82h-11M135 553.68h11M811.2 553.68h-11M135 531.85h11M811.2 531.85h-11M135 514.01h11M811.2 514.01h-11M135 498.93h11M811.2 498.93h-11M135 485.86h11M811.2 485.86h-11M135 474.34h11M811.2 474.34h-11M135 464.03h22M811.2 464.03h-22M135 396.22h11M811.2 396.22h-11M135 356.55h11M811.2 356.55h-11M135 328.41h11M811.2 328.41h-11M135 306.58h11M811.2 306.58h-11M135 288.74h11M811.2 288.74h-11M135 273.66h11M811.2 273.66h-11M135 260.6h11M811.2 260.6h-11M135 249.07h11M811.2 249.07h-11M135 238.77h22M811.2 238.77h-22M135 170.95h11M811.2 170.95h-11M135 131.29h11M811.2 131.29h-11M135 103.14h11M811.2 103.14h-11M135 81.31h11M811.2 81.31h-11M135 63.48h11M811.2 63.48h-11M135 48.39h11M811.2 48.39h-11M135 35.33h11M811.2 35.33h-11M135 23.81h11M811.2 23.81h-11" stroke="#000" stroke-width="1.8" fill="none"/>
<rect x="135" y="13.5" width="676.2" height="675.8" fill="none" stroke="#000" stroke-width="1.9"/>
<rect x="152.2" y="47.4" width="178" height="491.6" fill="#fff" stroke="#000" stroke-width="1.8"/>
<g font-family="Liberation Serif, serif" fill="#000">
<path d="M176.8 77.5H194.8M185.8 68.5V86.5" fill="none" stroke="#000000" stroke-width="1.8"/>
<path d="M239.4 59.9L232.7 73L239.4 86.4" fill="none" stroke="#000" stroke-width="1.5"/>
<text x="241.5" y="82.5" font-size="31">n</text>
<text x="257.2" y="95.3" font-size="22">0</text>
<path d="M270 59.9L276.7 73L270 86.4" fill="none" stroke="#000" stroke-width="1.5"/>
<path d="M176.8 125.5H194.8M185.8 116.5V134.5M179.44 119.14L192.16 131.86M179.44 131.86L192.16 119.14" fill="none" stroke="#ff0000" stroke-width="1.8"/>
<path d="M239.4 107.9L232.7 121L239.4 134.4" fill="none" stroke="#000" stroke-width="1.5"/>
<text x="241.5" y="130.5" font-size="31">n</text>
<text x="257.2" y="143.3" font-size="22">1-4</text>
<path d="M288.33 107.9L295.03 121L288.33 134.4" fill="none" stroke="#000" stroke-width="1.5"/>
<path d="M179.44 167.14L192.16 179.86M179.44 179.86L192.16 167.14" fill="none" stroke="#0000ff" stroke-width="1.8"/>
<path d="M239.4 155.9L232.7 169L239.4 182.4" fill="none" stroke="#000" stroke-width="1.5"/>
<text x="241.5" y="178.5" font-size="31">n</text>
<text x="257.2" y="191.3" font-size="22">5-8</text>
<path d="M288.33 155.9L295.03 169L288.33 182.4" fill="none" stroke="#000" stroke-width="1.5"/>
<path d="M185.8 211.11L176.8 226.7L194.8 226.7Z" fill="none" stroke="#00ff00" stroke-width="1.8"/>
<path d="M239.4 203.9L232.7 217L239.4 230.4" fill="none" stroke="#000" stroke-width="1.5"/>
<text x="241.5" y="226.5" font-size="31">n</text>
<text x="257.2" y="239.3" font-size="22">9-12</text>
<path d="M299.33 203.9L306.03 217L299.33 230.4" fill="none" stroke="#000" stroke-width="1.5"/>
<path d="M178.15 261.85H193.45V277.15H178.15Z" fill="none" stroke="#ffa500" stroke-width="1.8"/>
<path d="M239.4 251.9L232.7 265L239.4 278.4" fill="none" stroke="#000" stroke-width="1.5"/>
<text x="241.5" y="274.5" font-size="31">n</text>
<text x="257.2" y="287.3" font-size="22">13-20</text>
<path d="M310.33 251.9L317.03 265L310.33 278.4" fill="none" stroke="#000" stroke-width="1.5"/>
<path d="M176.8 317.5A9 9 0 1 0 194.8 317.5A9 9 0 1 0 176.8 317.5Z" fill="none" stroke="#9400d3" stroke-width="1.8"/>
<path d="M239.4 299.9L232.7 313L239.4 326.4" fill="none" stroke="#000" stroke-width="1.5"/>
<text x="241.5" y="322.5" font-size="31">n</text>
<text x="257.2" y="335.3" font-size="22">21-24</text>
<path d="M310.33 299.9L317.03 313L310.33 326.4" fill="none" stroke="#000" stroke-width="1.5"/>
<path d="M185.8 356.5L194.8 365.5L185.8 374.5L176.8 365.5Z" fill="none" stroke="#40e0d0" stroke-width="1.8"/>
<path d="M239.4 347.9L232.7 361L239.4 374.4" fill="none" stroke="#000" stroke-width="1.5"/>
<text x="241.5" y="370.5" font-size="31">n</text>
<text x="257.2" y="383.3" font-size="22">25-28</text>
<path d="M310.33 347.9L317.03 361L310.33 374.4" fill="none" stroke="#000" stroke-width="1.5"/>
<path d="M185.8 423.89L176.8 408.3L194.8 408.3Z" fill="none" stroke="#670748" stroke-width="1.8"/>
<path d="M239.4 395.9L232.7 409L239.4 422.4" fill="none" stroke="#000" stroke-width="1.5"/>
<text x="241.5" y="418.5" font-size="31">n</text>
<text x="257.2" y="431.3" font-size="22">29-36</text>
<path d="M310.33 395.9L317.03 409L310.33 422.4" fill="none" stroke="#000" stroke-width="1.5"/>
<path d="M175.41 461.5L191 452.5L191 470.5Z" fill="none" stroke="#bc8f8f" stroke-width="1.8"/>
<path d="M239.4 443.9L232.7 457L239.4 470.4" fill="none" stroke="#000" stroke-width="1.5"/>
<text x="241.5" y="466.5" font-size="31">n</text>
<text x="257.2" y="479.3" font-size="22">37-44</text>
<path d="M310.33 443.9L317.03 457L310.33 470.4" fill="none" stroke="#000" stroke-width="1.5"/>
<path d="M196.19 509.5L180.6 500.5L180.6 518.5Z" fill="none" stroke="#7221bc" stroke-width="1.8"/>
<path d="M239.4 491.9L232.7 505L239.4 518.4" fill="none" stroke="#000" stroke-width="1.5"/>
<text x="241.5" y="514.5" font-size="31">n</text>
<text x="257.2" y="527.3" font-size="22">45-48</text>
<path d="M310.33 491.9L317.03 505L310.33 518.4" fill="none" stroke="#000" stroke-width="1.5"/>
<text x="135" y="722.2" font-size="31" text-anchor="middle">0.001</text>
<text x="286.03" y="722.2" font-size="31" text-anchor="middle">0.01</text>
<text x="437.07" y="722.2" font-size="31" text-anchor="middle">0.1</text>
<text x="588.1" y="722.2" font-size="31" text-anchor="middle">1</text>
<text x="739.14" y="722.2" font-size="31" text-anchor="middle">10</text>
<text x="811.2" y="722.2" font-size="31" text-anchor="middle">30</text>
<text x="125.5" y="23.8" font-size="31" text-anchor="end">1</text>
<text x="125.5" y="250.47" font-size="31" text-anchor="end">0.1</text>
<text x="125.5" y="475.73" font-size="31" text-anchor="end">0.01</text>
<text x="125.5" y="700.1" font-size="31" text-anchor="end">0.001</text>
<text x="474.5" y="725.5" font-size="37" text-anchor="middle">1</text>
<path d="M465 730.4H483.8" stroke="#000" stroke-width="1.4"/>
<text x="474.2" y="761.4" font-size="37" text-anchor="middle">6</text>
<text x="460.8" y="806.4" font-size="31.5">a</text>
<text x="474.7" y="787.8" font-size="22.5">2</text>
<g transform="translate(32.5 396) rotate(-90)">
<path d="M8 -22.6L1.3 -9.5L8 3.9" fill="none" stroke="#000" stroke-width="1.5"/>
<text x="10" y="0" font-size="31">n</text>
<text x="25.6" y="12.8" font-size="22">i</text>
<path d="M33.6 -22.6L40.3 -9.5L33.6 3.9" fill="none" stroke="#000" stroke-width="1.5"/>
<text x="41.8" y="0" font-size="31">/</text>
<text x="50.6" y="0" font-size="31">ρ</text>
<text x="69.6" y="-19.6" font-size="22">eq</text>
</g>
</g>
</svg></body></html>
